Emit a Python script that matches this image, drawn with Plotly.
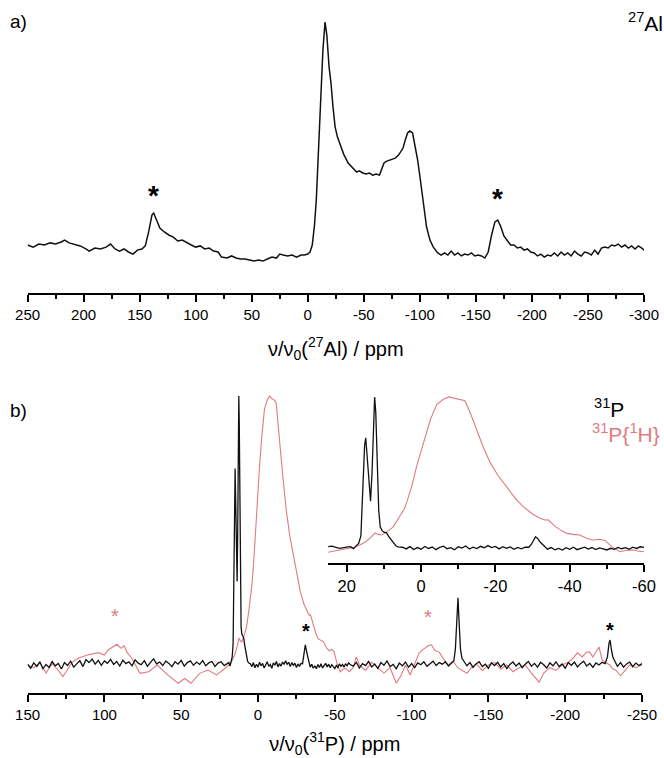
import plotly.graph_objects as go

# ---------------- 27Al spectrum (panel a) ----------------
al_ppm = [250, 245, 240, 235, 230, 225, 220, 217, 213, 208, 203, 198, 195, 190, 185, 180, 176, 172, 168, 164,
          160, 156, 152, 148, 145, 142, 139, 137.5, 135, 132, 128, 124, 120, 116, 112, 108, 104, 100, 96, 92,
          88, 84, 80, 77, 72, 68, 64, 60, 56, 52, 48, 44, 40, 36, 32, 28, 25, 22, 18, 14, 10, 6, 3, 0,
          -2, -4, -6, -7.6, -9.5, -11.5, -13.5, -15.4, -17, -19, -20.7, -22.5, -24.4, -26.5, -28.4, -32, -36, -40,
          -43.6, -46, -49, -52, -55, -58, -61, -64, -66, -68, -70, -74, -78, -81, -85, -87, -89, -91, -93.5, -95,
          -98, -100, -102, -104, -106, -109, -112, -116, -119, -122, -125, -128, -131, -134, -137, -140, -143,
          -146, -149, -152, -155, -158, -161, -164, -167, -169.5, -172, -175, -178, -181, -184, -187, -190, -193,
          -196, -199, -202, -205, -208, -211, -214, -217, -220, -223, -226, -229, -232, -235, -238, -241, -244,
          -247, -250, -253, -256, -259, -262, -265, -268, -271, -274, -277, -280, -283, -286, -289, -292, -295,
          -298, -300]
al_int = [4.3, 3.4, 4.7, 4.3, 5.2, 4.7, 5.6, 6.4, 5.2, 4.7, 3.9, 2.6, 1.7, 3.0, 2.6, 3.4, 4.7, 2.6, 1.7, 2.6,
          1.3, 0.4, 2.1, 2.6, 3.9, 9.9, 17.2, 18.0, 15.0, 11.6, 9.9, 8.6, 7.7, 6.0, 6.4, 5.2, 4.3, 3.4, 3.9, 2.6,
          3.0, 1.7, 1.3, -0.9, -1.3, -0.4, -1.3, -1.7, -1.7, -2.1, -2.6, -2.1, -2.6, -1.7, -0.9, -1.3, 0.4, 0.0, -0.4, 0.0, -0.9, 0.0, 0.0, 0.4,
          1.3, 4.3, 12.9, 23.6, 45.0, 66.5, 88.0, 100.0, 94.4, 80.7, 73.8, 63.5, 54.9, 50.6, 48.1, 43.3, 39.5, 37.3,
          35.6, 36.1, 35.2, 34.8, 35.2, 34.3, 34.8, 34.3, 37.3, 39.5, 40.2, 40.8, 41.6, 42.9, 45.9, 49.4, 52.4, 53.2, 52.4, 48.5,
          40.8, 33.9, 26.6, 19.3, 12.0, 6.4, 3.4, 0.9, 0.0, 0.9, 0.0, 1.7, 0.0, 0.9, -0.4, 0.4, 0.0,
          0.9, -0.4, 0.0, -0.4, -1.3, 1.3, 8.6, 14.2, 15.0, 12.4, 8.2, 6.0, 4.3, 4.3, 3.0, 3.4, 2.1,
          2.6, 1.3, 0.9, -0.4, 0.4, -0.9, 0.0, -0.4, 0.9, -0.4, 1.3, 0.0, 0.9, -0.4, 1.7, 0.4, -0.4,
          1.3, 0.9, 0.0, 2.1, 0.4, 3.0, 3.4, 3.0, 4.3, 3.9, 4.7, 3.4, 4.3, 3.0, 3.9, 2.6, 3.9,
          3.0, 2.1]

# ---------------- 31P spectrum (black) ----------------
p_ppm = [150, 148, 146, 144, 142, 140, 138, 136, 134, 132, 130, 128, 126, 124, 122, 120, 118, 116, 114, 112,
         110, 108, 106, 104, 102, 100, 98, 96, 94, 92, 90, 88, 86, 84, 82, 80, 78, 76, 74, 72,
         70, 68, 66, 64, 62, 60, 58, 56, 54, 52, 50, 48, 46, 44, 42, 40, 38, 36, 34, 32,
         30, 28, 26, 24, 22, 20,
         19, 18.2, 17.5, 16.8, 16.2, 15.7, 15.2, 14.9, 14.5, 14.0, 13.6, 13.2, 12.8, 12.5, 12.2, 11.8, 11.4, 11.0,
         10.5, 10.0, 9.3, 8.7, 8.0, 7.4, 6.8, 6.2,
         5, 4, 3, 2, 1, 0, -1, -2, -3, -4, -5, -6, -7, -8, -9, -10, -11, -12, -13, -14, -15, -16, -17, -18, -19,
         -20, -21, -22, -23, -24, -25, -26, -27, -28, -29, -29.7, -30.3, -30.8, -31.4, -32.1, -33, -34, -35, -36,
         -37, -38, -39, -40, -41, -42, -43, -44, -45, -46, -47, -48, -49, -50, -51, -52, -53, -54, -55, -56, -57,
         -58, -59, -60,
         -62, -64, -66, -68, -70, -72, -74, -76, -78, -80, -82, -84, -86, -88, -90, -92, -94, -96, -98, -100,
         -102, -104, -106, -108, -110, -112, -114, -116, -118, -120, -122, -124, -126, -127.5, -128.5, -129.5,
         -130.2, -131, -131.8, -132.8, -134, -136, -138, -140, -142, -144, -146, -148, -150, -152, -154, -156,
         -158, -160, -162, -164, -166, -168, -170, -172, -174, -176, -178, -180, -182, -184, -186, -188, -190,
         -192, -194, -196, -198, -200, -202, -204, -206, -208, -210, -212, -214, -216, -218, -220, -222, -224,
         -226, -227.5, -228.5, -229.2, -230, -231, -232.5, -234, -236, -238, -240, -242, -244, -246, -248, -250]
p_int = [0.3, -1.2, 0.8, -0.5, 1.1, -1.4, 0.2, -0.9, 1.3, -0.3, 0.6, -1.5, 0.9, -0.2, 1.4, -0.8, 0.4, 1.6, -0.6, 2.0,
         0.9, 2.2, 0.3, 1.7, -0.1, 1.5, 0.6, 2.1, 0.2, 1.3, -0.4, 1.8, 0.5, 1.2, -0.3, 1.9, 0.7, 0.1, 1.6, -0.5,
         1.0, 2.3, 0.4, 1.1, -0.2, 1.4, 0.6, -0.6, 1.2, 0.3, 1.7, -0.4, 0.9, 1.5, -0.1, 1.1, 0.2, 1.6, -0.3, 0.8,
         1.3, -0.5, 0.7, 1.2, -0.2, 0.6,
         0.9, -0.4, 1.0, 3.0, 8.0, 35.0, 68.0, 73.0, 60.0, 38.0, 31.0, 50.0, 88.0, 100.0, 90.0, 55.0, 25.0, 14.0,
         11.5, 10.5, 10.0, 7.5, 5.0, 3.0, 1.5, 0.8,
         0.5, -0.6, 0.9, -1.0, 0.3, -0.8, 1.0, -0.3, 0.6, -1.1, 0.4, 1.2, -0.5, 0.2, -1.2, 0.8, -0.1, 1.3, -0.7, 0.5, -0.4, 1.1, 0.2, 1.6, 0.3,
         1.0, -0.6, 0.9, -0.2, 0.7, -0.9, 0.4, -0.5, 0.6, 0.5, 2.5, 5.5, 7.5, 6.2, 3.8, 1.6, -0.8, 0.3, -1.2,
         -0.3, -1.4, 0.2, -0.9, 0.5, -1.1, -0.2, 0.6, -0.7, 0.3, -1.0, 0.1, -0.6, -1.3, -0.2, -0.9, 0.4, -0.5, 0.2, -0.8, 0.5,
         -0.3, 0.8, 0.2,
         -0.4, 1.0, -1.1, 0.5, -0.2, 1.3, -0.7, 0.4, -1.3, 0.9, -0.1, 1.5, -0.6, 0.2, -1.4, 0.7, -0.3, 1.1, -0.8, 0.5,
         -1.0, 0.8, 0.1, 1.2, -0.5, 0.6, 1.4, -0.2, 0.9, 0.3, 1.2, -0.4, 0.7, 1.5, 6.0, 18.0,
         25.0, 15.0, 6.0, 2.5, 1.3, -0.3, 0.9, -0.9, 0.4, 1.2, -0.6, 0.3, -1.2, 0.8, -0.2, 1.0,
         -0.7, 0.5, -1.3, 0.2, 1.1, -0.4, 0.7, -1.0, 0.3, 1.3, -0.5, 0.6, -0.8, 1.0, 0.1, -1.1, 0.8,
         -0.3, 1.2, -0.6, 0.4, -1.2, 0.9, -0.1, 1.1, -0.7, 0.5, 1.4, -0.4, 0.6, -0.9, 0.8, 0.0, 1.0,
         0.5, 3.0, 8.0, 9.3, 6.0, 3.0, 1.2, -0.5, 0.9, -0.8, 0.4, 1.1, -0.6, 0.7, -0.2, 0.5]

# ---------------- 31P{1H} spectrum (red) ----------------
ph_ppm = [150, 146, 142, 138, 134, 130, 127, 124, 121, 116.8, 111, 104, 100, 97.6, 94.7, 91.9, 89.2, 87.2, 85, 82.3,
          76.8, 71.2, 65.6, 58.8, 52, 47.7, 43.6, 38, 32.5, 27, 22, 20, 18, 16.5, 15, 13.5, 12.4, 11.5, 10.6,
          9, 7.5, 6, 4.5, 3.9, 2.5, 1.2, 0, -1, -2.5, -4.2, -6, -7.5, -9, -10.5, -11.8, -13.3, -14.9, -16.7,
          -18.5, -20.7, -23, -25.3, -27.5, -30, -32, -33.3, -34.2, -36, -37.5, -39.2, -41, -42.7, -44.5, -46.3,
          -48, -49.5, -51.3, -53.5, -55.5, -57.1, -59.4, -62, -64, -66, -70, -74, -78, -82, -86, -90, -93, -96,
          -99, -102, -105, -108, -111, -113, -115, -118, -121, -124, -127, -130, -133, -136, -139, -142, -146,
          -150, -154, -158, -162, -166, -170, -174, -178, -181, -183, -186, -190, -194, -198, -202, -205, -208,
          -211, -214, -216, -218, -220, -222, -224, -226, -229, -231, -233, -236, -239, -242, -246, -250]
ph_int = [0.0, -1.0, 1.0, -3.0, 0.5, -2.0, -4.3, -1.5, 1.0, 2.6, 3.7, 4.6, 3.7, 5.6, 6.8, 7.7, 6.2, 7.1, 4.5, 2.6,
          -3.1, -2.5, 0.0, -3.7, -6.8, -5.0, -6.8, -3.1, -1.9, -3.7, -1.5, -0.5, 0.5, 2.0, 4.0, 7.0, 10.0, 9.0, 8.6,
          11.0, 14.0, 20.0, 26.0, 30.0, 41.0, 54.0, 64.0, 74.0, 85.0, 95.0, 98.5, 100.0, 99.0, 98.5, 97.5, 89.0, 78.0, 67.0,
          57.0, 48.0, 40.6, 33.0, 27.4, 22.5, 19.7, 18.5, 18.6, 14.5, 12.0, 9.7, 9.0, 8.6, 6.5, 5.3,
          5.8, 5.0, 0.9, -2.5, -1.5, -1.3, -2.5, -1.0, 3.0, 0.0, -2.0, 1.0, -1.0, -3.0, -1.0, -6.8, -4.0, 0.0,
          -3.7, 0.5, 4.5, 6.0, 7.2, 7.5, 5.5, 4.8, 2.0, 0.0, 1.5, -1.0, -2.0, -3.1, -1.0, 0.5, -2.0,
          0.0, 1.0, -1.5, 0.0, -2.5, -1.0, 0.0, -3.0, -5.0, -6.4, -3.0, -1.0, -2.0, 0.0, 1.0, 2.5, 4.5,
          3.0, 4.8, 4.8, 3.0, 5.0, 6.7, 2.0, 1.0, 0.0, -1.5, -1.9, -4.0, -2.0, 0.0, -1.0, 0.0]

# tick labels
al_ticks = [250, 200, 150, 100, 50, 0, -50, -100, -150, -200, -250, -300]
p_ticks = [150, 100, 50, 0, -50, -100, -150, -200, -250]
inset_ticks = [20, 0, -20, -40, -60]

BLACK = "#111111"
RED = "#e07a80"
FONT = "Liberation Sans, Arial, sans-serif"

fig = go.Figure()
fig.add_trace(go.Scatter(x=al_ppm, y=al_int, mode="lines", line=dict(color=BLACK, width=1.5),
                         xaxis="x", yaxis="y", showlegend=False))
fig.add_trace(go.Scatter(x=ph_ppm, y=ph_int, mode="lines", line=dict(color=RED, width=1.1),
                         xaxis="x2", yaxis="y2", showlegend=False))
fig.add_trace(go.Scatter(x=p_ppm, y=p_int, mode="lines", line=dict(color=BLACK, width=1.3),
                         xaxis="x2", yaxis="y2", showlegend=False))
fig.add_trace(go.Scatter(x=ph_ppm, y=ph_int, mode="lines", line=dict(color=RED, width=1.1),
                         xaxis="x3", yaxis="y3", showlegend=False))
fig.add_trace(go.Scatter(x=p_ppm, y=p_int, mode="lines", line=dict(color=BLACK, width=1.3),
                         xaxis="x3", yaxis="y3", showlegend=False))

W, H = 664, 758
def px(x):
    return x / W
def py(y):
    return 1 - y / H

axis_common = dict(showline=True, linecolor="black", linewidth=1.5, ticks="outside",
                   tickcolor="black", tickwidth=1.5, ticklen=7, showgrid=False, zeroline=False,
                   automargin=False,
                   tickfont=dict(family=FONT, size=15, color="black"))

fig.update_layout(
    width=W, height=H, margin=dict(l=0, r=0, t=0, b=0, pad=0, autoexpand=False),
    paper_bgcolor="white", plot_bgcolor="rgba(0,0,0,0)",
    font=dict(family=FONT, color="black"),
    xaxis=dict(domain=[px(27.6), px(644)], range=[250, -300], anchor="y",
               tickvals=al_ticks, ticktext=[str(t) for t in al_ticks],
               minor=dict(dtick=25, ticklen=4, tickwidth=1.5, tickcolor="black", ticks="outside"),
               title=dict(text="ν/ν<sub>0</sub>(<sup>27</sup>Al) / ppm", font=dict(family=FONT, size=20), standoff=20),
               **axis_common),
    yaxis=dict(domain=[py(293), py(15)], range=[-16.3, 103.0], visible=False, anchor="x"),
    xaxis2=dict(domain=[px(27.6), px(642)], range=[150, -250], anchor="y2",
                tickvals=p_ticks, ticktext=[str(t) for t in p_ticks],
                minor=dict(dtick=25, ticklen=4, tickwidth=1.5, tickcolor="black", ticks="outside"),
                title=dict(text="ν/ν<sub>0</sub>(<sup>31</sup>P) / ppm", font=dict(family=FONT, size=20), standoff=17),
                **axis_common),
    yaxis2=dict(domain=[py(693), py(385)], range=[-10.41, 104.09], visible=False, anchor="x2"),
    xaxis3=dict(domain=[px(328.2), px(644)], range=[25, -60], anchor="y3",
                tickvals=inset_ticks, ticktext=[str(t) for t in inset_ticks],
                minor=dict(dtick=10, ticklen=4, tickwidth=1.5, tickcolor="black", ticks="outside"),
                **{**axis_common, "tickfont": dict(family=FONT, size=16.5, color="black")}),
    yaxis3=dict(domain=[py(563), py(385)], range=[-9.93, 107.9], visible=False, anchor="x3"),
)

ann = []
def text_px(t, x, y, size, color="black", xanchor="left"):
    ann.append(dict(text=t, x=px(x), y=py(y), xref="paper", yref="paper", showarrow=False,
                    xanchor=xanchor, yanchor="middle", font=dict(family=FONT, size=size, color=color)))

text_px("a)", 8, 22, 19)
text_px("<sup>27</sup>Al", 626, 22, 21)
text_px("b)", 8, 410, 19)
text_px("<sup>31</sup>P", 592, 408, 21)
text_px("<sup>31</sup>P{<sup>1</sup>H}", 590, 433, 21, color=RED)

def star(x, y, xr, yr, size, color, bold):
    t = "<b>*</b>" if bold else "*"
    ann.append(dict(text=t, x=x, y=y, xref=xr, yref=yr, showarrow=False, xanchor="center",
                    yanchor="middle", yshift=-int(size * 0.22), font=dict(family=FONT, size=size, color=color)))

star(137.6, 28.0, "x", "y", 28, "black", True)
star(-169.5, 26.7, "x", "y", 28, "black", True)
star(-31.0, 14.1, "x2", "y2", 20, "black", True)
star(-229.0, 14.5, "x2", "y2", 20, "black", True)
star(92.8, 19.7, "x2", "y2", 20, RED, False)
star(-110.7, 19.3, "x2", "y2", 20, RED, False)

fig.update_layout(annotations=ann)
fig.write_html("out.html", config={"displayModeBar": False},
               post_script="document.body.style.margin='0';document.body.style.padding='0';document.body.style.overflow='hidden';")
